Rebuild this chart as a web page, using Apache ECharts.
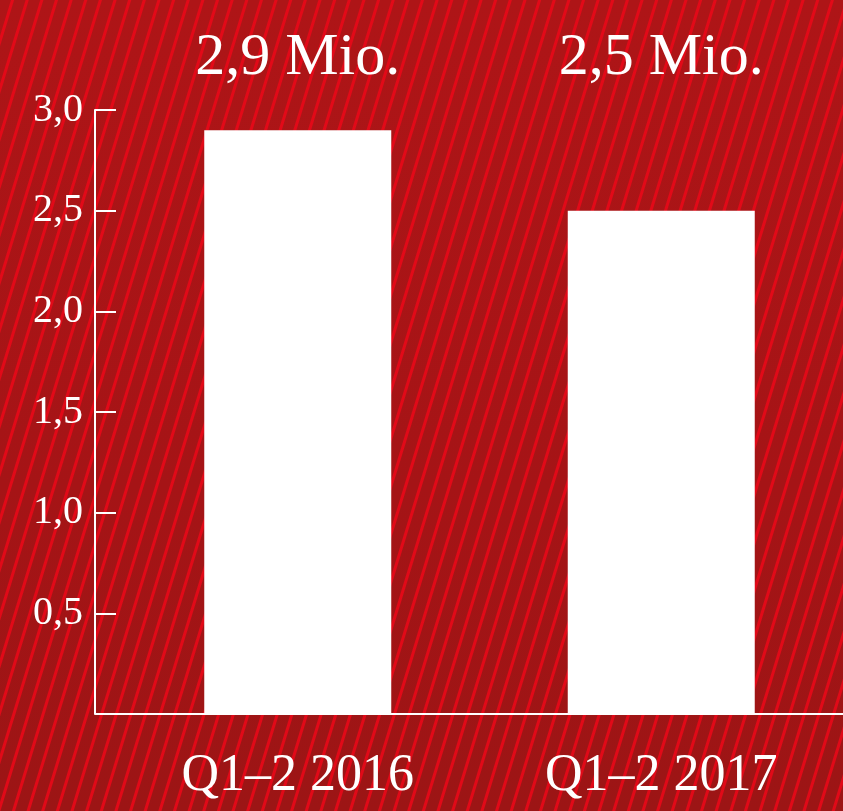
<!DOCTYPE html>
<html>
<head>
<meta charset="utf-8">
<script src="https://cdn.jsdelivr.net/npm/echarts@6/dist/echarts.min.js"></script>
<style>
  html, body { margin: 0; padding: 0; }
  #chart {
    width: 843px; height: 811px;
    background:
      repeating-linear-gradient(107deg, rgba(232,8,24,0) 0px, rgba(232,8,24,0) 10px, rgba(232,8,24,0.9) 11px, rgba(232,8,24,0.9) 13px, rgba(232,8,24,0) 14px),
      linear-gradient(180deg, #ae1517 0%, #a51416 60%, #9c1515 100%);
  }
</style>
</head>
<body>
<div id="chart"></div>
<script>
// Zeiträume und Werte (Mio.)
const categories = ['Q1–2 2016', 'Q1–2 2017'];
const values = [2.9, 2.5];
const yTicks = [0.5, 1.0, 1.5, 2.0, 2.5, 3.0];

const fmt = v => v.toFixed(1).replace('.', ',');
const font = '"Liberation Serif", "DejaVu Serif", serif';

const chart = echarts.init(document.getElementById('chart'));
const option = {
  backgroundColor: 'transparent',
  animation: false,
  grid: { left: 116, right: 0, top: 110, bottom: 97 },
  xAxis: [
    {
      type: 'category',
      data: categories,
      axisLine: { lineStyle: { color: '#fff', width: 2 } },
      axisTick: { show: false },
      axisLabel: { color: '#fff', fontFamily: font, fontSize: 52, margin: 36 }
    },
    {
      type: 'category',
      position: 'top',
      data: values.map(v => fmt(v) + ' Mio.'),
      axisLine: { show: false },
      axisTick: { show: false },
      axisLabel: { color: '#fff', fontFamily: font, fontSize: 60, margin: 22 }
    }
  ],
  yAxis: {
    type: 'value',
    min: 0,
    max: yTicks[yTicks.length - 1],
    interval: 0.5,
    offset: 21,
    axisLine: { show: true, lineStyle: { color: '#fff', width: 2 } },
    axisTick: { show: true, inside: true, length: 21, lineStyle: { color: '#fff', width: 2 } },
    splitLine: { show: false },
    axisLabel: {
      color: '#fff', fontFamily: font, fontSize: 40, margin: 12,
      formatter: v => (v === 0 ? '' : fmt(v))
    }
  },
  series: [{
    type: 'bar',
    data: values,
    barWidth: 187,
    itemStyle: { color: '#fff' }
  }]
};
chart.setOption(option);
</script>
</body>
</html>
